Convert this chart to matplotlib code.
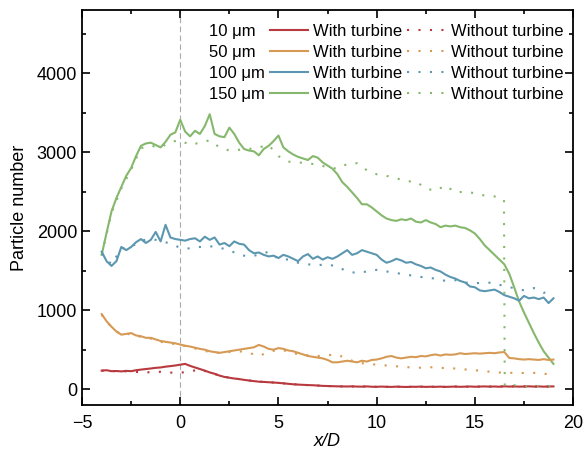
import numpy as np
import matplotlib.pyplot as plt
from matplotlib.lines import Line2D
from matplotlib.ticker import MultipleLocator

plt.rcParams['font.family'] = ['Liberation Sans', 'DejaVu Sans']

# with turbine (solid), sampled every 0.25 D from -4 to 19
green_with = [1700, 1980, 2250, 2420, 2560, 2700, 2800, 2950, 3080, 3110, 3120, 3090, 3060, 3130, 3220, 3250,
              3410, 3260, 3200, 3270, 3230, 3330, 3480, 3230, 3200, 3190, 3310, 3230, 3120, 3040, 3020, 3010,
              2960, 3040, 3080, 3140, 3210, 3060, 3010, 2970, 2940, 2920, 2900, 2950, 2930, 2870, 2830, 2790,
              2720, 2620, 2560, 2490, 2420, 2340, 2340, 2300, 2250, 2200, 2160, 2140, 2130, 2150, 2140, 2160,
              2120, 2110, 2140, 2110, 2090, 2050, 2070, 2060, 2070, 2050, 2040, 2010, 1970, 1900, 1820, 1760,
              1700, 1640, 1580, 1460, 1290, 1110, 970, 840, 710, 590, 480, 400, 320]
blue_with = [1740, 1620, 1560, 1620, 1800, 1760, 1800, 1860, 1900, 1850, 1890, 1990, 1870, 2080, 1920, 1900,
             1890, 1880, 1900, 1910, 1870, 1930, 1890, 1920, 1830, 1850, 1810, 1870, 1840, 1830, 1760, 1720,
             1730, 1700, 1680, 1690, 1660, 1700, 1680, 1650, 1620, 1680, 1710, 1650, 1680, 1640, 1670, 1650,
             1680, 1720, 1760, 1700, 1720, 1760, 1740, 1720, 1700, 1640, 1600, 1620, 1650, 1630, 1600, 1610,
             1580, 1560, 1530, 1540, 1510, 1490, 1450, 1420, 1400, 1370, 1350, 1300, 1290, 1250, 1240, 1250,
             1260, 1230, 1190, 1170, 1150, 1120, 1180, 1150, 1160, 1140, 1160, 1090, 1150]
orange_with = [950, 860, 790, 730, 690, 700, 710, 680, 670, 650, 650, 630, 610, 600, 590, 580,
               565, 550, 540, 525, 510, 500, 480, 470, 460, 470, 480, 490, 500, 510, 520, 530,
               560, 540, 510, 500, 520, 510, 490, 480, 460, 440, 420, 410, 400, 390, 370, 340,
               340, 350, 360, 350, 340, 360, 350, 370, 375, 390, 410, 420, 400, 390, 400, 410,
               405, 420, 415, 430, 440, 425, 440, 435, 440, 455, 445, 450, 455, 450, 455, 460,
               455, 465, 470, 395, 390, 380, 375, 380, 375, 370, 380, 370, 375]
red_with = [235, 240, 228, 230, 225, 232, 228, 240, 248, 255, 262, 270, 275, 285, 292, 300,
            310, 320, 295, 275, 255, 235, 212, 195, 172, 155, 145, 135, 128, 118, 110, 102,
            95, 92, 88, 84, 80, 74, 68, 62, 58, 55, 52, 50, 46, 42, 40, 38,
            36, 35, 34, 36, 33, 32, 35, 31, 30, 33, 30, 29, 32, 30, 28, 31,
            30, 33, 29, 31, 30, 32, 29, 31, 33, 30, 32, 34, 31, 33, 35, 32,
            34, 31, 36, 33, 35, 32, 34, 36, 33, 35, 32, 34, 35]

# without turbine (dotted)
x_without = [-4.0, -3.5, -3.0, -2.5, -2.0, -1.5, -1.0, -0.5, 0.0, 0.5, 1.0, 1.5, 2.0, 2.5, 3.0, 3.5,
             4.0, 4.5, 5.0, 5.5, 6.0, 6.5, 7.0, 7.5, 8.0, 8.5, 9.0, 9.5, 10.0, 10.5, 11.0, 11.5,
             12.0, 12.5, 13.0, 13.5, 14.0, 14.5, 15.0, 15.5, 16.0, 16.5, 17.0, 17.5, 18.0, 18.5, 19.0]
x_green_without = [-4.0, -3.5, -3.0, -2.5, -2.0, -1.5, -1.0, -0.5, 0.0, 0.5, 1.0, 1.5, 2.0, 2.5, 3.0, 3.5,
                   4.0, 4.5, 5.0, 5.5, 6.0, 6.5, 7.0, 7.5, 8.0, 8.5, 9.0, 9.5, 10.0, 10.5, 11.0, 11.5,
                   12.0, 12.5, 13.0, 13.5, 14.0, 14.5, 15.0, 15.5, 16.0, 16.48, 16.52, 17.0, 17.5, 18.0, 18.5, 19.0]
green_without = [1700, 2230, 2540, 2780, 3050, 3080, 3060, 3130, 3150, 3090, 3120, 3150, 3060, 3020, 3030, 3040,
                 3060, 3090, 2950, 2880, 2870, 2860, 2840, 2810, 2790, 2850, 2860, 2770, 2720, 2700, 2670, 2630,
                 2630, 2540, 2510, 2580, 2490, 2500, 2480, 2450, 2440, 2400, 40, 50, 30, 40, 35, 40]
blue_without = [1720, 1580, 1780, 1800, 1880, 1900, 1880, 1840, 1790, 1780, 1800, 1810, 1790, 1760, 1700, 1680,
                1700, 1740, 1650, 1640, 1600, 1580, 1570, 1580, 1550, 1490, 1470, 1490, 1510, 1490, 1470, 1450,
                1430, 1410, 1400, 1370, 1380, 1350, 1340, 1350, 1345, 1300, 1280, 1250, 1280, 1220, 1240]
orange_without = [940, 780, 690, 700, 660, 640, 600, 580, 560, 530, 500, 470, 460, 470, 480, 460,
                  420, 470, 500, 480, 440, 430, 420, 430, 440, 380, 340, 320, 310, 300, 290, 280,
                  270, 275, 278, 265, 262, 250, 240, 228, 215, 207, 207, 205, 207, 195, 186]
red_without = [235, 230, 225, 228, 210, 215, 220, 210, 208, 225, 250, 212, 172, 145, 128, 110,
               95, 88, 80, 68, 58, 52, 46, 40, 36, 34, 33, 35, 30, 30, 32, 28,
               30, 29, 30, 29, 33, 32, 31, 35, 34, 36, 35, 34, 33, 32, 35]

sizes = ['10 μm', '50 μm', '100 μm', '150 μm']
colors = ['#B8393E', '#D69A55', '#5B97B0', '#85B86C']

dot = (0, (1, 4.5))

fig = plt.figure(figsize=(5.86, 4.61), dpi=100)
ax = fig.add_axes([0.14, 0.1215, 0.838, 0.857])

ax.axvline(0, color='#aaaaaa', lw=0.8, ls=(0, (5, 3)), zorder=0)

with_series = [red_with, orange_with, blue_with, green_with]
without_series = [(x_without, red_without), (x_without, orange_without),
                  (x_without, blue_without), (x_green_without, green_without)]

for ys, c in zip(with_series[::-1], colors[::-1]):
    ax.plot(np.linspace(-4, 19, len(ys)), ys, color=c, lw=1.5)
for (xs, ys), c in zip(without_series[::-1], colors[::-1]):
    ax.plot(xs, ys, color=c, lw=1.5, ls=dot)

ax.set_xlim(-5, 20)
ax.set_ylim(-200, 4800)
ax.xaxis.set_major_locator(MultipleLocator(5))
ax.xaxis.set_minor_locator(MultipleLocator(2.5))
ax.yaxis.set_major_locator(MultipleLocator(1000))
ax.yaxis.set_minor_locator(MultipleLocator(500))
ax.tick_params(which='both', direction='in', top=True, right=True, width=1.2, labelsize=13)
ax.tick_params(which='major', length=6)
ax.tick_params(which='minor', length=3)
ax.tick_params(axis='x', pad=7)
for s in ax.spines.values():
    s.set_linewidth(1.3)

ax.set_xlabel('x/D', fontsize=13, style='italic', labelpad=1)
ax.set_ylabel('Particle number', fontsize=13, labelpad=6)

# legend: size label | solid | dotted
blank = [Line2D([], [], color='none') for _ in sizes]
solid = [Line2D([], [], color=c, lw=1.5) for c in colors]
dotted = [Line2D([], [], color=c, lw=1.5, ls=dot) for c in colors]
labels = sizes + ['With turbine'] * 4 + ['Without turbine'] * 4
ax.legend(blank + solid + dotted, labels, ncol=3, frameon=False, loc='upper right',
          bbox_to_anchor=(0.98, 0.964), fontsize=12, handlelength=2.3,
          handletextpad=0.3, columnspacing=0.3, labelspacing=0.35, borderpad=0,
          borderaxespad=0)

fig.savefig('out.png', dpi=100)
